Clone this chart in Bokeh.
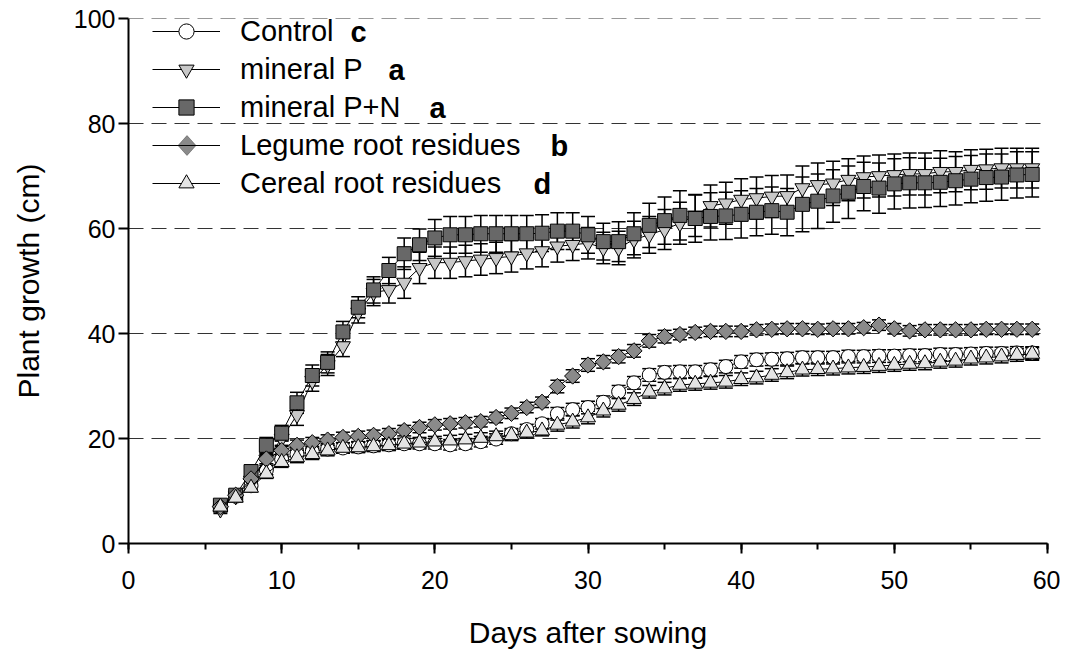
import numpy as np
from bokeh.plotting import figure
from bokeh.models import (ColumnDataSource, Range1d, SingleIntervalTicker, Whisker, TeeHead,
                          Legend, LegendItem, Label, PolyAnnotation, Span)
from bokeh.embed import file_html
from bokeh.resources import INLINE

# ---------------- data ----------------
days = list(range(6, 60))

control = [
    7.0, 9.0, 11.0, 14.0, 16.0, 17.0, 17.5, 18.0, 18.2, 18.4,
    18.6, 18.8, 19.0, 19.0, 19.0, 18.8, 19.0, 19.4, 19.9, 20.9,
    21.7, 22.8, 24.7, 25.5, 25.9, 26.9, 28.9, 30.6, 32.1, 32.6,
    32.7, 32.7, 33.1, 33.7, 34.6, 35.0, 35.1, 35.2, 35.4, 35.4,
    35.4, 35.6, 35.6, 35.7, 35.7, 35.8, 35.8, 36.0, 36.0, 36.1,
    36.2, 36.2, 36.3, 36.3]
control_err = [
    0.6, 0.7, 0.8, 0.9, 1.0, 1.0, 1.0, 1.0, 1.0, 1.0,
    1.0, 1.0, 1.0, 1.0, 1.0, 1.0, 1.0, 1.0, 1.0, 1.0,
    1.0, 1.0, 1.2, 1.2, 1.2, 1.2, 1.2, 1.2, 1.2, 1.2,
    1.2, 1.2, 1.2, 1.2, 1.2, 1.2, 1.2, 1.2, 1.2, 1.2,
    1.2, 1.2, 1.2, 1.2, 1.2, 1.2, 1.2, 1.2, 1.2, 1.2,
    1.2, 1.2, 1.2, 1.2]

mineral_p = [
    6.5, 9.0, 12.0, 16.0, 20.0, 24.5, 31.0, 34.0, 37.6, 44.0,
    47.8, 48.3, 49.7, 52.5, 53.5, 53.5, 53.8, 54.1, 54.4, 54.7,
    55.3, 55.7, 56.6, 56.9, 57.2, 56.3, 56.3, 57.9, 58.8, 59.8,
    61.0, 62.5, 64.3, 64.8, 65.5, 65.8, 66.1, 66.2, 67.7, 68.3,
    68.6, 69.3, 69.8, 70.0, 70.2, 70.4, 70.4, 70.8, 70.8, 71.2,
    71.3, 71.5, 71.5, 71.5]
mineral_p_err = [
    0.8, 1.0, 1.2, 1.5, 1.5, 2.0, 2.0, 2.0, 2.0, 2.0,
    2.5, 2.5, 3.0, 3.0, 3.0, 3.0, 3.0, 3.0, 3.0, 3.0,
    3.0, 3.0, 3.0, 3.0, 3.0, 3.0, 3.2, 3.5, 3.5, 3.8,
    4.0, 4.0, 4.0, 4.0, 4.0, 4.0, 4.0, 4.0, 4.2, 4.2,
    4.2, 4.0, 4.0, 4.0, 4.0, 4.0, 4.0, 4.0, 3.8, 3.8,
    3.8, 3.8, 3.8, 3.8]

mineral_pn = [
    7.3, 9.2, 13.7, 18.7, 21.0, 26.8, 32.0, 34.5, 40.3, 45.0,
    48.3, 52.0, 55.2, 56.9, 58.2, 58.8, 58.8, 59.0, 59.0, 59.0,
    59.0, 59.1, 59.5, 59.5, 58.8, 57.5, 57.5, 59.0, 60.6, 61.5,
    62.5, 61.9, 62.3, 62.4, 62.7, 63.1, 63.4, 63.1, 64.6, 65.2,
    66.2, 66.9, 68.0, 67.7, 68.5, 68.7, 68.7, 68.8, 69.1, 69.4,
    69.7, 69.8, 70.2, 70.3]
mineral_pn_err = [
    0.8, 1.0, 1.2, 1.5, 1.5, 2.0, 2.0, 2.0, 2.0, 2.0,
    2.5, 2.5, 3.0, 3.0, 3.5, 3.5, 3.5, 3.5, 3.5, 3.5,
    3.5, 3.5, 3.5, 3.5, 3.5, 3.5, 3.8, 4.0, 4.2, 4.5,
    4.7, 4.5, 4.5, 4.5, 4.5, 4.5, 4.5, 4.5, 5.2, 5.2,
    5.0, 5.0, 4.6, 4.8, 4.8, 4.8, 4.7, 4.6, 4.6, 4.5,
    4.5, 4.4, 4.4, 4.3]

legume = [
    7.0, 9.2, 12.3, 16.1, 17.7, 18.7, 19.2, 19.7, 20.2, 20.4,
    20.6, 20.9, 21.5, 22.1, 22.6, 22.8, 23.0, 23.2, 24.0, 24.8,
    25.9, 26.9, 29.9, 31.9, 34.0, 34.6, 35.6, 36.7, 38.6, 39.4,
    39.8, 40.2, 40.4, 40.4, 40.4, 40.7, 40.8, 40.9, 40.9, 40.8,
    40.9, 40.9, 41.1, 41.6, 40.9, 40.5, 40.7, 40.7, 40.7, 40.7,
    40.8, 40.8, 40.8, 40.8]
legume_err = [
    0.6, 0.7, 0.8, 0.9, 1.0, 1.0, 1.0, 1.0, 1.0, 1.0,
    1.0, 1.0, 1.0, 1.0, 1.0, 1.0, 1.0, 1.0, 1.0, 1.0,
    1.0, 1.0, 1.2, 1.2, 1.2, 1.2, 1.2, 1.2, 1.2, 1.2,
    1.0, 1.0, 1.0, 1.0, 1.0, 1.0, 1.0, 1.0, 1.0, 1.0,
    1.0, 1.0, 1.0, 1.0, 1.0, 1.0, 1.0, 1.0, 1.0, 1.0,
    1.0, 1.0, 1.0, 1.0]

cereal = [
    7.0, 8.7, 10.6, 13.3, 15.5, 16.4, 17.0, 17.7, 18.2, 18.3,
    18.5, 18.7, 19.0, 19.2, 19.4, 19.6, 19.8, 20.1, 20.4, 20.6,
    21.1, 21.5, 22.6, 23.2, 24.0, 25.3, 26.4, 27.5, 28.9, 29.5,
    30.2, 30.4, 30.6, 30.8, 31.3, 31.6, 32.1, 32.6, 33.1, 33.2,
    33.3, 33.5, 33.6, 33.8, 34.0, 34.2, 34.3, 34.6, 34.8, 35.2,
    35.4, 35.6, 35.9, 36.1]
cereal_err = [
    0.6, 0.7, 0.8, 0.9, 1.0, 1.0, 1.0, 1.0, 1.0, 1.0,
    1.0, 1.0, 1.0, 1.0, 1.0, 1.0, 1.0, 1.0, 1.0, 1.0,
    1.0, 1.0, 1.2, 1.2, 1.2, 1.2, 1.2, 1.2, 1.2, 1.2,
    1.2, 1.2, 1.2, 1.2, 1.2, 1.2, 1.2, 1.2, 1.2, 1.2,
    1.2, 1.2, 1.2, 1.2, 1.2, 1.2, 1.2, 1.2, 1.2, 1.2,
    1.2, 1.2, 1.2, 1.2]

series_names = ["Control", "mineral P", "mineral P+N", "Legume root residues", "Cereal root residues"]
series_letters = ["c", "a", "a", "b", "d"]
x_ticks_interval = 10
y_ticks_interval = 20
y_max = 100

# ---------------- styling ----------------
FONT = "Liberation Sans"
styles = [
    dict(marker="circle", size=14, fill="#ffffff", angle=0.0),
    dict(marker="inverted_triangle", size=15, fill="#c8c8c8", angle=0.0),
    dict(marker="square", size=14, fill="#686868", angle=0.0),
    dict(marker="square", size=11.5, fill="#8a8a8a", angle=np.pi / 4),
    dict(marker="triangle", size=15, fill="#e4e4e4", angle=0.0),
]
values = [control, mineral_p, mineral_pn, legume, cereal]
errors = [control_err, mineral_p_err, mineral_pn_err, legume_err, cereal_err]

p = figure(width=1060, height=651, x_range=Range1d(0, 60), y_range=Range1d(0, y_max),
           output_backend="svg", toolbar_location=None,
           min_border_left=128, min_border_right=13, min_border_top=18, min_border_bottom=106)
p.outline_line_color = None
p.xgrid.visible = False
p.ygrid.grid_line_color = "#333333"
p.ygrid.grid_line_dash = "15 8"
p.ygrid.grid_line_width = 1

# dashed line at the top of the axis (grid line at the range end)
p.add_layout(Span(location=y_max, dimension="width", line_color="#333333",
                  line_dash="15 8", line_width=1))

p.xaxis.ticker = SingleIntervalTicker(interval=x_ticks_interval, num_minor_ticks=2)
p.yaxis.ticker = SingleIntervalTicker(interval=y_ticks_interval, num_minor_ticks=0)

for ax in (p.xaxis, p.yaxis):
    ax.axis_line_color = "black"
    ax.axis_line_width = 2
    ax.major_tick_line_color = "black"
    ax.major_tick_line_width = 2
    ax.major_tick_in = 0
    ax.major_tick_out = 10
    ax.minor_tick_line_color = "black"
    ax.minor_tick_line_width = 2
    ax.minor_tick_in = 0
    ax.major_label_text_font = FONT
    ax.major_label_text_font_size = "25px"
    ax.major_label_text_color = "black"
    ax.axis_label_text_font = FONT
    ax.axis_label_text_font_size = "30px"
    ax.axis_label_text_font_style = "normal"
    ax.axis_label_text_color = "black"

p.xaxis.minor_tick_out = 6
p.yaxis.minor_tick_out = 0
p.xaxis.axis_label = "Days after sowing"
p.yaxis.axis_label = "Plant growth (cm)"
p.xaxis.major_label_standoff = 17
p.xaxis.axis_label_standoff = 24
p.yaxis.major_label_standoff = 3
p.yaxis.axis_label_standoff = 26

items = []
for i, (name, vals, errs, st) in enumerate(zip(series_names, values, errors, styles)):
    lo = [v - e for v, e in zip(vals, errs)]
    hi = [v + e for v, e in zip(vals, errs)]
    src = ColumnDataSource(dict(x=days, y=vals, lo=lo, hi=hi))
    w = Whisker(source=src, base="x", lower="lo", upper="hi",
                line_color="black", line_width=1.5,
                upper_head=TeeHead(size=14, line_color="black", line_width=1.5),
                lower_head=TeeHead(size=14, line_color="black", line_width=1.5))
    p.add_layout(w)
    lr = p.line("x", "y", source=src, line_color="black", line_width=1)
    sr = p.scatter("x", "y", source=src, marker=st["marker"], size=st["size"],
                   angle=st["angle"], fill_color=st["fill"], line_color="black",
                   line_width=1)
    # rotated-square (diamond) entry gets its legend marker drawn separately
    rends = [lr] if st["angle"] != 0.0 else [lr, sr]
    items.append(LegendItem(label=name, renderers=rends))

LEG_X, LEG_TOP_FROM_BOTTOM, ROW_H, GLYPH_W = 24, 531, 38, 68
legend = Legend(items=items, location=(LEG_X, LEG_TOP_FROM_BOTTOM - 5 * ROW_H),
                orientation="vertical",
                glyph_width=GLYPH_W, glyph_height=ROW_H, label_height=ROW_H, spacing=0,
                padding=0, margin=0, label_standoff=20,
                label_text_font=FONT, label_text_font_size="29px",
                label_text_color="black",
                border_line_alpha=0, background_fill_alpha=0)
p.add_layout(legend)

row_centers = [LEG_TOP_FROM_BOTTOM - ROW_H * (k + 0.5) for k in range(5)]

# diamond marker for the legume legend entry
cx = LEG_X + GLYPH_W / 2 + 0.5
cy = row_centers[3]
p.add_layout(PolyAnnotation(xs=[cx, cx + 9, cx, cx - 9], ys=[cy + 10, cy, cy - 10, cy],
                            xs_units="screen", ys_units="screen",
                            fill_color="#8a8a8a", fill_alpha=1.0,
                            line_color="black", line_width=1))

# bold significance letters after legend labels (screen positions)
letter_x = [222, 260, 301, 422, 405]
for t, lx, ly in zip(series_letters, letter_x, row_centers):
    p.add_layout(Label(x=lx, y=ly, x_units="screen", y_units="screen", text=t,
                       text_font=FONT, text_font_size="29px", text_font_style="bold",
                       text_baseline="middle", text_align="left", text_color="black"))

open("out.html", "w").write(file_html(p, INLINE))
